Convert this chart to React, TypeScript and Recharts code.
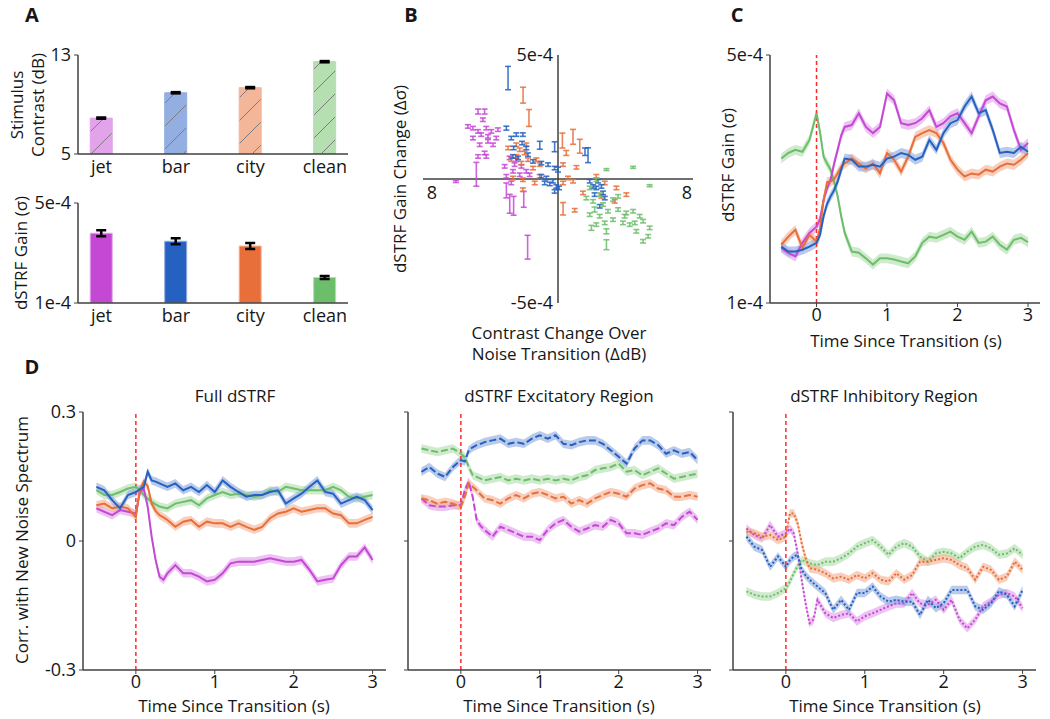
/**
 * Noise-transition figure: stimulus contrast, dSTRF gain and
 * correlation traces after a background-noise switch (panels A–D)
 */
import React from 'react'
import {
  ComposedChart,
  ScatterChart,
  Scatter,
  Bar,
  Line,
  Area,
  XAxis,
  YAxis,
  ErrorBar,
  Cell,
  ReferenceLine,
  ReferenceDot,
} from 'recharts'

type Stim = 'jet' | 'bar' | 'city' | 'clean'

const STIMULI: Stim[] = ['jet', 'bar', 'city', 'clean']
const DRAW_ORDER: Stim[] = ['clean', 'jet', 'city', 'bar']

const COLORS: Record<Stim, string> = { jet: '#C548D5', bar: '#2561C1', city: '#E86F39', clean: '#6DBE6B' }
const LIGHT: Record<Stim, string> = { jet: '#E2A3EB', bar: '#93AEE1', city: '#F4B699', clean: '#B5DEB1' }

const INK = '#161616'
const AXIS = '#404040'
const FONT = '"Open Sans", "Noto Sans", sans-serif'
const TICK = { fill: INK, fontSize: 18 }

// ---- A: stimulus contrast (dB) and mean dSTRF gain (x1e-4) ----
const CONTRAST = [7.9, 9.95, 10.36, 12.46]
const CONTRAST_ERR = [0.05, 0.05, 0.05, 0.05]
const GAIN = [3.79, 3.47, 3.28, 2.02]
const GAIN_ERR = [0.12, 0.12, 0.12, 0.06]

// ---- B: [contrast change (dB), gain change (x1e-4), error] ----
const JET_B = [
  [-4.74, 2.72, 0.1], [-4.35, 2.72, 0.1], [-4.45, 2.39, 0.07], [-5.04, 2.05, 0.07], [-5.34, 2.12, 0.07],
  [-4.74, 1.92, 0.07], [-4.25, 2.05, 0.07], [-3.95, 1.92, 0.07], [-3.56, 1.99, 0.07], [-3.66, 1.65, 0.07],
  [-4.15, 1.72, 0.07], [-4.55, 1.79, 0.07], [-5.04, 1.65, 0.07], [-4.64, 1.38, 0.07], [-4.15, 1.52, 0.07],
  [-3.85, 1.38, 0.07], [-4.35, 1.05, 0.07], [-4.74, 0.91, 0.07], [-4.25, 0.91, 0.07], [-4.84, 0.19, 0.48],
  [-6.05, -0.1, 0.04], [-2.87, 0.85, 0.07], [-2.57, 0.58, 0.07], [-2.17, 0.51, 0.07], [-2.67, 0.31, 0.07],
  [-2.27, 0.17, 0.07], [-1.88, 0.31, 0.07], [-3.06, 0.11, 0.07], [-2.77, -0.16, 0.07], [-1.68, 0.17, 0.07],
  [-3.16, 0.51, 0.07], [-2.47, 0.78, 0.07], [-3.06, -0.46, 0.3], [-2.86, -1.0, 0.38], [-2.63, -1.08, 0.38],
  [-2.03, -0.82, 0.32], [-1.8, -2.75, 0.48],
]
const BAR_B = [
  [-2.96, 4.07, 0.47], [-3.06, 2.05, 0.08], [-2.77, 1.65, 0.07], [-2.47, 1.79, 0.07], [-2.08, 1.79, 0.07],
  [-2.13, 1.45, 0.07], [-2.63, 1.25, 0.07], [-1.88, 1.25, 0.07], [-1.08, 1.36, 0.16], [-0.2, 1.3, 0.2],
  [1.6, 1.1, 0.15], [1.78, 0.96, 0.3], [-2.67, 0.91, 0.07], [-2.37, 0.85, 0.07], [-1.78, 0.98, 0.07],
  [-1.48, 0.71, 0.07], [-0.99, 0.64, 0.07], [-0.59, 0.58, 0.07], [-0.2, 0.44, 0.07], [0, 0.38, 0.1],
  [-0.99, 0.11, 0.07], [-0.69, 0.04, 0.07], [-0.3, -0.09, 0.07], [-0.49, -0.2, 0.07], [-0.1, -0.3, 0.07],
  [0.06, -0.36, 0.07], [-0.2, -0.5, 0.07], [-0.79, -0.16, 0.07], [1.88, -0.09, 0.07], [2.08, -0.3, 0.07],
  [2.37, -0.09, 0.07], [2.27, -0.36, 0.07], [2.57, -0.3, 0.07], [2.67, -0.56, 0.07], [2.17, -0.63, 0.07],
  [2.77, -0.77, 0.07], [2.47, -1.1, 0.07],
]
const CITY_B = [
  [-2.07, 3.38, 0.32], [-1.72, 2.46, 0.34], [0.26, 1.55, 0.3], [0.89, 1.7, 0.3], [1.29, 1.32, 0.28],
  [0.49, 1.05, 0.1], [1.09, 0.47, 0.07], [0.3, 0.58, 0.07], [-2.96, 1.25, 0.07], [-2.47, 1.38, 0.07],
  [-2.27, 1.18, 0.07], [-1.88, 1.38, 0.07], [-1.98, 1.05, 0.07], [-2.47, 0.91, 0.07], [-2.77, 0.78, 0.07],
  [-2.17, 0.64, 0.07], [-1.78, 0.78, 0.07], [-1.28, 0.78, 0.07], [-1.09, 0.58, 0.07], [-1.48, 0.44, 0.07],
  [-2.67, 0.04, 0.07], [-2.08, -0.03, 0.07], [-1.38, -0.16, 0.07], [-1.09, 0.11, 0.07], [0.3, -0.16, 0.07],
  [0.59, 0.04, 0.07], [0.89, -0.09, 0.07], [1.48, -0.56, 0.07], [2.27, 0.11, 0.07], [2.77, -0.16, 0.07],
  [3.46, -0.36, 0.07], [4.05, -0.63, 0.07], [3.36, -0.9, 0.07], [2.57, -0.7, 0.07], [0.3, -1.2, 0.25],
  [0.99, -1.26, 0.07], [-2.08, -0.43, 0.07],
]
const CLEAN_B = [
  [4.45, 0.47, 0.04], [5.43, -0.27, 0.04], [2.87, 0.38, 0.04], [2.27, -0.03, 0.07], [1.88, -0.36, 0.07],
  [1.68, -0.77, 0.07], [2.47, -0.63, 0.07], [2.08, -0.9, 0.07], [2.67, -1.03, 0.07], [3.26, -0.83, 0.07],
  [3.56, -0.7, 0.07], [2.17, -1.23, 0.1], [1.88, -1.44, 0.07], [2.47, -1.5, 0.07], [2.96, -1.3, 0.07],
  [3.56, -1.23, 0.07], [4.05, -1.37, 0.07], [3.95, -1.5, 0.07], [4.45, -1.3, 0.07], [4.84, -1.5, 0.07],
  [4.55, -1.77, 0.07], [5.04, -1.7, 0.07], [5.43, -1.97, 0.07], [5.34, -2.31, 0.07], [5.04, -2.51, 0.07],
  [4.64, -2.11, 0.07], [3.85, -1.77, 0.07], [3.26, -1.64, 0.07], [2.77, -1.77, 0.07], [2.27, -1.84, 0.07],
  [1.98, -1.97, 0.1], [2.87, -2.11, 0.1], [2.87, -2.65, 0.2], [4.25, -1.84, 0.07],
]

// ---- C, D: time since transition (s) ----
const TIME = [
  -0.5, -0.4, -0.3, -0.2, -0.1, 0, 0.05, 0.1, 0.15, 0.2, 0.25, 0.3, 0.35, 0.4,
  0.5, 0.6, 0.7, 0.8, 0.9, 1, 1.1, 1.2, 1.3, 1.4, 1.5, 1.6, 1.7, 1.8, 1.9, 2,
  2.1, 2.2, 2.3, 2.4, 2.5, 2.6, 2.7, 2.8, 2.9, 3,
]

// C: dSTRF gain (x1e-4)
const GAIN_T_JET = [1.89, 1.81, 1.75, 1.97, 2.13, 2.23, 2.35, 2.66, 2.85, 2.99, 3.25, 3.47, 3.7, 3.84, 3.87, 4.06, 3.84, 3.74, 3.84, 4.38, 4.27, 3.9, 3.87, 3.9, 3.98, 4.11, 3.84, 3.9, 4.01, 4.06, 3.9, 3.74, 4.01, 4.27, 4.33, 4.22, 4.17, 3.79, 3.47, 3.58]
const GAIN_T_BAR = [1.91, 1.83, 1.83, 1.86, 1.91, 1.97, 2.1, 2.4, 2.6, 2.72, 2.82, 2.96, 3.15, 3.33, 3.31, 3.2, 3.2, 3.23, 3.2, 3.33, 3.36, 3.42, 3.39, 3.31, 3.36, 3.63, 3.47, 3.74, 3.9, 3.95, 4.17, 4.33, 4.06, 4.11, 3.79, 3.42, 3.44, 3.42, 3.52, 3.44]
const GAIN_T_CITY = [1.94, 2.07, 2.18, 1.89, 2.1, 1.99, 2.2, 2.66, 2.95, 2.96, 3.0, 3.09, 3.2, 3.25, 3.33, 3.25, 3.17, 3.25, 3.09, 3.42, 3.31, 3.12, 3.36, 3.68, 3.74, 3.79, 3.74, 3.58, 3.31, 3.15, 3.04, 3.09, 3.07, 3.15, 3.12, 3.2, 3.25, 3.23, 3.31, 3.42]
const GAIN_T_CLEAN = [3.33, 3.42, 3.47, 3.44, 3.63, 4.06, 3.75, 3.36, 3.25, 3.15, 2.95, 2.72, 2.4, 2.13, 1.83, 1.81, 1.72, 1.62, 1.72, 1.72, 1.7, 1.67, 1.64, 1.75, 1.97, 2.07, 2.05, 2.1, 2.15, 2.07, 2.02, 2.15, 1.97, 1.99, 2.07, 1.94, 1.86, 2.02, 2.05, 1.98]

// D: correlation with new noise spectrum
const FULL_JET = [0.076, 0.068, 0.06, 0.072, 0.068, 0.064, 0.114, 0.122, 0.08, 0.01, -0.044, -0.083, -0.09, -0.075, -0.056, -0.075, -0.075, -0.083, -0.094, -0.09, -0.075, -0.052, -0.048, -0.048, -0.048, -0.044, -0.04, -0.044, -0.048, -0.048, -0.044, -0.067, -0.094, -0.09, -0.087, -0.056, -0.036, -0.036, -0.015, -0.044]
const FULL_BAR = [0.126, 0.118, 0.095, 0.076, 0.107, 0.114, 0.12, 0.126, 0.161, 0.141, 0.138, 0.134, 0.13, 0.126, 0.134, 0.118, 0.126, 0.114, 0.13, 0.114, 0.141, 0.126, 0.114, 0.103, 0.107, 0.107, 0.114, 0.118, 0.087, 0.099, 0.11, 0.126, 0.141, 0.114, 0.11, 0.087, 0.095, 0.103, 0.095, 0.072]
const FULL_CITY = [0.083, 0.087, 0.076, 0.08, 0.076, 0.056, 0.118, 0.138, 0.128, 0.087, 0.07, 0.06, 0.055, 0.049, 0.033, 0.045, 0.049, 0.033, 0.045, 0.041, 0.041, 0.033, 0.041, 0.033, 0.026, 0.033, 0.053, 0.064, 0.068, 0.076, 0.068, 0.072, 0.076, 0.076, 0.064, 0.06, 0.041, 0.041, 0.049, 0.056]
const FULL_CLEAN = [0.118, 0.107, 0.107, 0.114, 0.122, 0.126, 0.118, 0.107, 0.099, 0.091, 0.085, 0.08, 0.078, 0.076, 0.087, 0.091, 0.095, 0.083, 0.099, 0.107, 0.114, 0.107, 0.11, 0.107, 0.103, 0.107, 0.118, 0.114, 0.126, 0.122, 0.118, 0.118, 0.118, 0.118, 0.126, 0.118, 0.103, 0.099, 0.103, 0.107]

const EXC_JET = [0.099, 0.083, 0.08, 0.08, 0.083, 0.083, 0.118, 0.138, 0.103, 0.049, 0.035, 0.026, 0.018, 0.01, 0.033, 0.026, 0.018, 0.01, 0.01, 0.002, 0.026, 0.041, 0.049, 0.033, 0.022, 0.029, 0.037, 0.033, 0.049, 0.041, 0.018, 0.018, 0.014, 0.022, 0.029, 0.041, 0.037, 0.056, 0.068, 0.049]
const EXC_BAR = [0.161, 0.172, 0.157, 0.149, 0.172, 0.188, 0.185, 0.211, 0.218, 0.223, 0.226, 0.23, 0.232, 0.234, 0.238, 0.226, 0.23, 0.226, 0.238, 0.246, 0.238, 0.246, 0.226, 0.223, 0.23, 0.234, 0.234, 0.226, 0.211, 0.196, 0.18, 0.215, 0.234, 0.234, 0.223, 0.203, 0.211, 0.203, 0.207, 0.188]
const EXC_CITY = [0.099, 0.095, 0.087, 0.091, 0.087, 0.08, 0.103, 0.134, 0.126, 0.118, 0.108, 0.099, 0.097, 0.095, 0.087, 0.099, 0.107, 0.099, 0.11, 0.114, 0.107, 0.099, 0.103, 0.087, 0.095, 0.087, 0.099, 0.107, 0.114, 0.11, 0.103, 0.122, 0.13, 0.134, 0.122, 0.118, 0.103, 0.103, 0.107, 0.103]
const EXC_CLEAN = [0.215, 0.211, 0.207, 0.211, 0.215, 0.203, 0.195, 0.172, 0.153, 0.149, 0.145, 0.141, 0.143, 0.145, 0.149, 0.141, 0.145, 0.141, 0.145, 0.141, 0.145, 0.141, 0.145, 0.141, 0.149, 0.153, 0.165, 0.169, 0.172, 0.18, 0.161, 0.165, 0.153, 0.161, 0.169, 0.157, 0.145, 0.149, 0.153, 0.157]

const INH_JET = [0.029, 0.014, 0.006, 0.037, 0.01, 0.018, 0.029, 0.018, -0.029, -0.09, -0.145, -0.191, -0.183, -0.137, -0.168, -0.179, -0.172, -0.168, -0.187, -0.175, -0.168, -0.16, -0.152, -0.145, -0.145, -0.121, -0.145, -0.148, -0.137, -0.16, -0.137, -0.183, -0.203, -0.183, -0.152, -0.141, -0.125, -0.121, -0.129, -0.156]
const INH_BAR = [0.01, -0.013, -0.021, -0.06, -0.036, -0.06, -0.045, -0.036, -0.032, -0.067, -0.08, -0.09, -0.098, -0.106, -0.121, -0.16, -0.137, -0.16, -0.121, -0.121, -0.106, -0.129, -0.141, -0.137, -0.141, -0.141, -0.172, -0.137, -0.156, -0.145, -0.114, -0.114, -0.114, -0.152, -0.16, -0.145, -0.117, -0.125, -0.152, -0.114]
const INH_CITY = [0.022, 0.018, 0.01, 0.014, 0.002, 0.01, 0.064, 0.064, 0.041, -0.005, -0.04, -0.063, -0.065, -0.067, -0.075, -0.087, -0.083, -0.09, -0.079, -0.087, -0.075, -0.09, -0.094, -0.075, -0.09, -0.079, -0.048, -0.048, -0.044, -0.04, -0.044, -0.056, -0.063, -0.09, -0.06, -0.067, -0.09, -0.083, -0.048, -0.067]
const INH_CLEAN = [-0.117, -0.125, -0.129, -0.129, -0.121, -0.11, -0.095, -0.075, -0.058, -0.044, -0.048, -0.052, -0.054, -0.056, -0.048, -0.048, -0.04, -0.029, -0.013, -0.005, 0.002, -0.013, -0.032, -0.013, -0.005, -0.013, -0.036, -0.048, -0.029, -0.025, -0.029, -0.04, -0.025, -0.013, -0.009, -0.017, -0.032, -0.029, -0.017, -0.032]

// shaded band half-widths (SEM)
const SEM_GAIN = 0.08
const SEM_CORR = 0.01

// ---- layout ----
const AX_W = 60
const AX_H = 34
const M_TOP = 12
const M_RIGHT = 14

type Box = [number, number, number, number] // plot area x0, y0, x1, y1 on the page

function dims([x0, y0, x1, y1]: Box) {
  return {
    pos: { position: 'absolute' as const, left: x0 - AX_W, top: y0 - M_TOP },
    width: x1 - x0 + AX_W + M_RIGHT,
    height: y1 - y0 + M_TOP + AX_H,
    margin: { top: M_TOP, right: M_RIGHT, bottom: 0, left: 0 },
  }
}

function Caption({ x, y, text, size = 17, bold = false, vertical = false }: {
  x: number; y: number; text: string; size?: number; bold?: boolean; vertical?: boolean
}) {
  return (
    <div
      style={{
        position: 'absolute',
        left: x,
        top: y,
        transform: `translate(-50%, -50%)${vertical ? ' rotate(-90deg)' : ''}`,
        fontSize: size,
        fontWeight: bold ? 700 : 400,
        lineHeight: 1,
        whiteSpace: 'nowrap',
        color: INK,
      }}
    >
      {text}
    </div>
  )
}

const barRows = STIMULI.map((s, i) => ({
  pos: i + 1,
  contrast: CONTRAST[i],
  contrastErr: CONTRAST_ERR[i],
  gain: GAIN[i],
  gainErr: GAIN_ERR[i],
}))

function StimBars({ box, dataKey, errKey, domain, ticks, format, hatched }: {
  box: Box; dataKey: string; errKey: string; domain: [number, number]; ticks: number[]
  format?: (v: number) => string; hatched?: boolean
}) {
  const d = dims(box)
  return (
    <div style={d.pos}>
      <ComposedChart width={d.width} height={d.height} margin={d.margin} data={barRows}>
        <defs>
          {STIMULI.map((s) => (
            <pattern key={s} id={`hatch-${s}`} patternUnits="userSpaceOnUse" width={23} height={23}>
              <rect width={23} height={23} fill={LIGHT[s]} />
              <path d="M0,23 L23,0" stroke="#7c7c7c" strokeWidth={1} />
            </pattern>
          ))}
        </defs>
        <XAxis
          dataKey="pos"
          type="number"
          domain={[0.685, 4.31]}
          ticks={[1, 2, 3, 4]}
          tickFormatter={(v: number) => STIMULI[v - 1]}
          allowDataOverflow
          height={AX_H}
          stroke={AXIS}
          axisLine={{ strokeWidth: 1.5 }}
          tickLine={false}
          tickSize={4}
          tickMargin={2}
          tick={TICK}
        />
        <YAxis
          type="number"
          domain={domain}
          ticks={ticks}
          tickFormatter={format}
          allowDataOverflow
          width={AX_W}
          stroke={AXIS}
          axisLine={{ strokeWidth: 1.5 }}
          tickSize={4}
          tickMargin={3}
          tick={TICK}
        />
        <Bar dataKey={dataKey} barSize={22} isAnimationActive={false}>
          {STIMULI.map((s) => (
            <Cell key={s} fill={hatched ? `url(#hatch-${s})` : COLORS[s]} stroke={LIGHT[s]} strokeWidth={1} />
          ))}
          <ErrorBar dataKey={errKey} width={5} stroke="#000" strokeWidth={2.5} direction="y" />
        </Bar>
      </ComposedChart>
    </div>
  )
}

function toPoints(rows: number[][]) {
  return rows.map(([x, y, e]) => ({ x, y, e }))
}

const SCATTER_SETS: Array<[Stim, number[][]]> = [
  ['jet', JET_B],
  ['city', CITY_B],
  ['bar', BAR_B],
  ['clean', CLEAN_B],
]

function GainChangeScatter() {
  const box: Box = [423, 55, 693, 303]
  const m = { top: 12, right: 14, bottom: 12, left: 20 }
  return (
    <div style={{ position: 'absolute', left: box[0] - m.left, top: box[1] - m.top }}>
      <ScatterChart width={box[2] - box[0] + m.left + m.right} height={box[3] - box[1] + m.top + m.bottom} margin={m}>
        <XAxis type="number" dataKey="x" domain={[-8, 8]} hide allowDataOverflow />
        <YAxis type="number" dataKey="y" domain={[-5, 5]} hide allowDataOverflow />
        <ReferenceLine y={0} stroke={AXIS} strokeWidth={1.5} />
        <ReferenceLine x={0} stroke={AXIS} strokeWidth={1.5} />
        <ReferenceDot x={0} y={5} r={0} stroke="none" label={{ value: '5e-4', position: 'left', offset: 5, fontSize: 18, fill: INK }} />
        <ReferenceDot x={0} y={-5} r={0} stroke="none" label={{ value: '-5e-4', position: 'left', offset: 5, fontSize: 18, fill: INK }} />
        <ReferenceDot x={-8} y={0} r={0} stroke="none" label={{ value: '8', position: 'bottom', offset: 7, dx: 9, fontSize: 18, fill: INK }} />
        <ReferenceDot x={8} y={0} r={0} stroke="none" label={{ value: '8', position: 'bottom', offset: 7, dx: -6, fontSize: 18, fill: INK }} />
        {SCATTER_SETS.map(([s, rows]) => (
          <Scatter key={s} data={toPoints(rows)} shape={() => <g />} isAnimationActive={false}>
            <ErrorBar dataKey="e" width={3} stroke={COLORS[s]} strokeOpacity={0.85} strokeWidth={1.6} direction="y" />
          </Scatter>
        ))}
      </ScatterChart>
    </div>
  )
}

function TracePanel({ box, series, sem, xDomain, yDomain, yTicks, yFormat, dash }: {
  box: Box; series: Record<Stim, number[]>; sem: number; xDomain: [number, number]
  yDomain: [number, number]; yTicks: number[]; yFormat: (v: number) => string; dash?: string
}) {
  const d = dims(box)
  const rows = TIME.map((t, i) => {
    const row: Record<string, unknown> = { t }
    for (const s of STIMULI) {
      const v = series[s][i]
      row[s] = v
      row[`${s}Band`] = [v - sem, v + sem]
    }
    return row
  })
  return (
    <div style={d.pos}>
      <ComposedChart width={d.width} height={d.height} margin={d.margin} data={rows}>
        <XAxis
          dataKey="t"
          type="number"
          domain={xDomain}
          ticks={[0, 1, 2, 3]}
          allowDataOverflow
          height={AX_H}
          stroke={AXIS}
          axisLine={{ strokeWidth: 1.5 }}
          tickSize={4}
          tickMargin={1}
          tick={TICK}
        />
        <YAxis
          type="number"
          domain={yDomain}
          ticks={yTicks}
          tickFormatter={yFormat}
          allowDataOverflow
          width={AX_W}
          stroke={AXIS}
          axisLine={{ strokeWidth: 1.5 }}
          tickSize={4}
          tickMargin={3}
          tick={TICK}
        />
        {DRAW_ORDER.map((s) => (
          <Area
            key={`${s}-band`}
            type="linear"
            dataKey={`${s}Band`}
            stroke="none"
            fill={LIGHT[s]}
            fillOpacity={0.65}
            isAnimationActive={false}
          />
        ))}
        <ReferenceLine x={0} stroke="#FF2B2B" strokeDasharray="4 3" strokeWidth={1.5} />
        {DRAW_ORDER.map((s) => (
          <Line
            key={s}
            type="linear"
            dataKey={s}
            stroke={COLORS[s]}
            strokeWidth={2}
            strokeDasharray={dash}
            dot={false}
            activeDot={false}
            isAnimationActive={false}
          />
        ))}
      </ComposedChart>
    </div>
  )
}

const gainFmt = (v: number) => `${v}e-4`
const blank = () => ''
const D_X: [number, number] = [-0.67, 3.17]

export default function App() {
  return (
    <div
      style={{
        position: 'absolute',
        left: 0,
        top: 0,
        width: 1050,
        height: 719,
        background: '#fff',
        fontFamily: FONT,
        overflow: 'hidden',
      }}
    >
      {/* A */}
      <Caption x={32} y={15} text="A" size={20} bold />
      <StimBars box={[78, 55, 348, 154]} dataKey="contrast" errKey="contrastErr" domain={[5, 13]} ticks={[5, 13]} hatched />
      <Caption x={16} y={105} text="Stimulus" vertical />
      <Caption x={37} y={105} text="Contrast (dB)" vertical />
      <StimBars box={[78, 203, 348, 303]} dataKey="gain" errKey="gainErr" domain={[1, 5]} ticks={[1, 5]} format={gainFmt} />
      <Caption x={20} y={253} text="dSTRF Gain (σ)" vertical />

      {/* B */}
      <Caption x={411} y={15} text="B" size={20} bold />
      <GainChangeScatter />
      <Caption x={399} y={179} text="dSTRF Gain Change (Δσ)" vertical />
      <Caption x={559} y={332} text="Contrast Change Over" />
      <Caption x={559} y={353} text="Noise Transition (ΔdB)" />

      {/* C */}
      <Caption x={737} y={15} text="C" size={20} bold />
      <TracePanel
        box={[770, 55, 1040, 303]}
        series={{ jet: GAIN_T_JET, bar: GAIN_T_BAR, city: GAIN_T_CITY, clean: GAIN_T_CLEAN }}
        sem={SEM_GAIN}
        xDomain={[-0.66, 3.17]}
        yDomain={[1, 5]}
        yTicks={[1, 5]}
        yFormat={gainFmt}
      />
      <Caption x={727} y={165} text="dSTRF Gain (σ)" vertical />
      <Caption x={906} y={340} text="Time Since Transition (s)" />

      {/* D */}
      <Caption x={32} y={367} text="D" size={20} bold />
      <Caption x={21} y={540} text="Corr. with New Noise Spectrum" vertical />

      <Caption x={235} y={395} text="Full dSTRF" />
      <TracePanel
        box={[83, 412, 386, 670]}
        series={{ jet: FULL_JET, bar: FULL_BAR, city: FULL_CITY, clean: FULL_CLEAN }}
        sem={SEM_CORR}
        xDomain={D_X}
        yDomain={[-0.3, 0.3]}
        yTicks={[-0.3, 0, 0.3]}
        yFormat={(v) => `${v}`}
      />
      <Caption x={234} y={705} text="Time Since Transition (s)" />

      <Caption x={559} y={395} text="dSTRF Excitatory Region" />
      <TracePanel
        box={[408, 412, 711, 670]}
        series={{ jet: EXC_JET, bar: EXC_BAR, city: EXC_CITY, clean: EXC_CLEAN }}
        sem={SEM_CORR}
        xDomain={D_X}
        yDomain={[-0.3, 0.3]}
        yTicks={[-0.3, 0, 0.3]}
        yFormat={blank}
        dash="7 3"
      />
      <Caption x={559} y={705} text="Time Since Transition (s)" />

      <Caption x={884} y={395} text="dSTRF Inhibitory Region" />
      <TracePanel
        box={[733, 412, 1036, 670]}
        series={{ jet: INH_JET, bar: INH_BAR, city: INH_CITY, clean: INH_CLEAN }}
        sem={SEM_CORR}
        xDomain={D_X}
        yDomain={[-0.3, 0.3]}
        yTicks={[-0.3, 0, 0.3]}
        yFormat={blank}
        dash="2 2"
      />
      <Caption x={885} y={705} text="Time Since Transition (s)" />
    </div>
  )
}
